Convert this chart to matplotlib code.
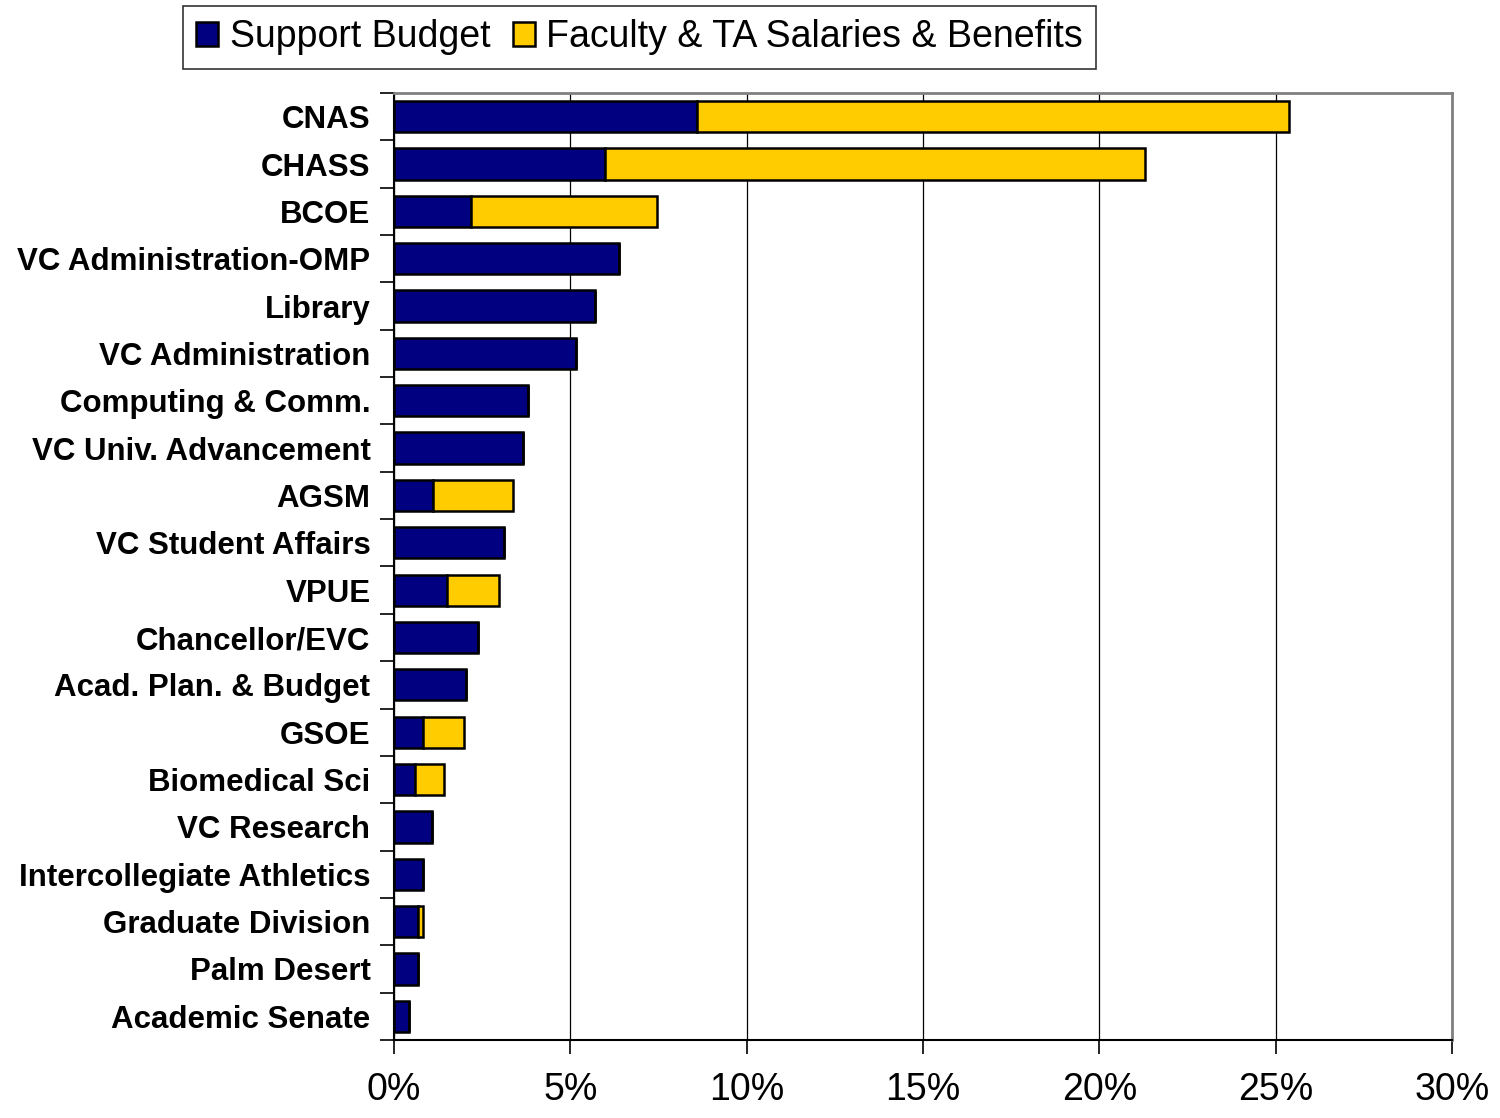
import matplotlib.pyplot as plt
import numpy as np

units = ['CNAS', 'CHASS', 'BCOE', 'VC Administration-OMP', 'Library',
         'VC Administration', 'Computing & Comm.', 'VC Univ. Advancement',
         'AGSM', 'VC Student Affairs', 'VPUE', 'Chancellor/EVC',
         'Acad. Plan. & Budget', 'GSOE', 'Biomedical Sci', 'VC Research',
         'Intercollegiate Athletics', 'Graduate Division', 'Palm Desert',
         'Academic Senate']

# percent of total budget
support = [8.58, 5.99, 2.17, 6.39, 5.71, 5.16, 3.80, 3.66, 1.10, 3.12,
           1.49, 2.38, 2.04, 0.81, 0.60, 1.08, 0.81, 0.67, 0.68, 0.41]
faculty = [16.79, 15.30, 5.30, 0, 0, 0, 0, 0, 2.28, 0,
           1.50, 0, 0, 1.16, 0.82, 0, 0, 0.14, 0, 0]

plt.rcParams['font.family'] = ['Liberation Sans', 'DejaVu Sans']

fig = plt.figure(figsize=(15, 11.18), dpi=100)
ax = fig.add_axes([0.2627, 0.0698, 0.968 - 0.2627, 0.9168 - 0.0698])

y = np.arange(len(units))
b1 = ax.barh(y, support, height=0.66, color='#000080', edgecolor='black',
             linewidth=1.8, label='Support Budget', zorder=3)
b2 = ax.barh(y, faculty, left=support, height=0.66, color='#FFCC00',
             edgecolor='black', linewidth=1.8,
             label='Faculty & TA Salaries & Benefits', zorder=3)

ax.set_xlim(0, 30)
ax.set_ylim(len(units) - 0.5, -0.5)
ax.set_xticks(range(0, 31, 5))
ax.set_xticklabels([f'{v}%' for v in range(0, 31, 5)], fontsize=27)
ax.set_yticks(y)
ax.set_yticklabels(units, fontsize=22.5, fontweight='bold')
ax.set_yticks(np.arange(-0.5, len(units)), minor=True)
ax.tick_params(axis='y', which='major', length=0, pad=17)
ax.tick_params(axis='y', which='minor', length=10, width=1.2, direction='out')
ax.tick_params(axis='x', length=10, width=1.2, pad=13)

ax.grid(axis='x', color='black', linewidth=0.9, zorder=0)
ax.set_axisbelow(True)
for side in ['top', 'right']:
    ax.spines[side].set_color('#808080')
    ax.spines[side].set_linewidth(2)
for side in ['left', 'bottom']:
    ax.spines[side].set_linewidth(1.5)

leg = fig.legend(handles=[b1, b2], loc='center', bbox_to_anchor=(0.4263, 0.9665),
                 ncol=2, fontsize=27, frameon=True, fancybox=False,
                 edgecolor='black', handlelength=0.6, handleheight=0.6,
                 handletextpad=0.3, columnspacing=0.6, borderpad=0.35,
                 borderaxespad=0)
leg.get_frame().set_linewidth(1.2)

fig.savefig('out.png', dpi=100)
